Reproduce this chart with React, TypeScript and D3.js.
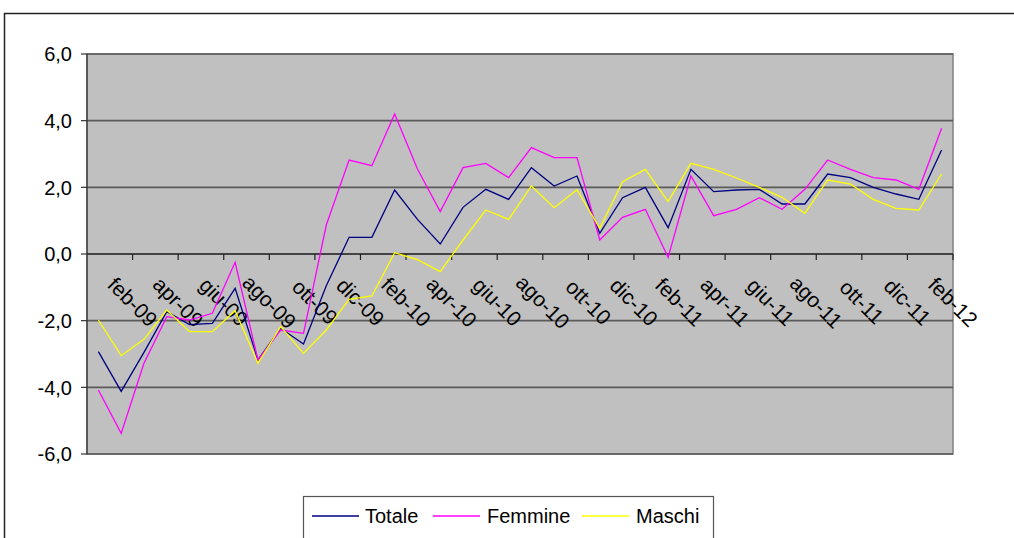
import * as d3 from 'd3';

const months = [
  'gen-09', 'feb-09', 'mar-09', 'apr-09', 'mag-09', 'giu-09', 'lug-09', 'ago-09', 'set-09', 'ott-09', 'nov-09', 'dic-09',
  'gen-10', 'feb-10', 'mar-10', 'apr-10', 'mag-10', 'giu-10', 'lug-10', 'ago-10', 'set-10', 'ott-10', 'nov-10', 'dic-10',
  'gen-11', 'feb-11', 'mar-11', 'apr-11', 'mag-11', 'giu-11', 'lug-11', 'ago-11', 'set-11', 'ott-11', 'nov-11', 'dic-11',
  'gen-12', 'feb-12'
];

const totale = [
  -2.93, -4.12, -2.95, -1.73, -2.12, -2.08, -1.03, -3.18, -2.23, -2.7, -0.95, 0.5,
  0.5, 1.92, 1.04, 0.3, 1.4, 1.94, 1.64, 2.59, 2.04, 2.34, 0.62, 1.69,
  2.0, 0.79, 2.54, 1.87, 1.92, 1.94, 1.5, 1.5, 2.4, 2.29, 2.0, 1.8,
  1.64, 3.12
];

const femmine = [
  -4.08, -5.38, -3.28, -1.88, -1.98, -1.78, -0.25, -3.18, -2.28, -2.38, 0.87, 2.82,
  2.65, 4.2, 2.55, 1.27, 2.59, 2.72, 2.29, 3.19, 2.89, 2.89, 0.42, 1.1,
  1.34, -0.1, 2.34, 1.15, 1.34, 1.69, 1.34, 1.94, 2.82, 2.54, 2.29, 2.22,
  1.94, 3.77
];

const maschi = [
  -1.98, -3.05, -2.56, -1.68, -2.33, -2.33, -1.7, -3.28, -2.18, -2.98, -2.28, -1.36,
  -1.26, 0.04, -0.17, -0.53, 0.42, 1.32, 1.04, 2.04, 1.39, 1.93, 0.77, 2.17,
  2.54, 1.57, 2.72, 2.54, 2.28, 2.0, 1.7, 1.22, 2.22, 2.1, 1.64, 1.37,
  1.32, 2.4
];

const yTicks = [-6, -4, -2, 0, 2, 4, 6];

const series = [
  { name: 'Totale', values: totale, color: '#000080' },
  { name: 'Femmine', values: femmine, color: '#ff00ff' },
  { name: 'Maschi', values: maschi, color: '#ffff00' }
];

const width = 1014;
const height = 538;
const plot = { left: 87, right: 953, top: 54, bottom: 454 };
const font = 'Arial, "Liberation Sans", sans-serif';

const itLocale = d3.formatLocale({
  decimal: ',',
  thousands: '.',
  grouping: [3],
  currency: ['', '€'],
  minus: '-'
});
const fmt = itLocale.format('.1f');

export default function App(): JSX.Element {
  const x = d3.scaleBand<string>().domain(months).range([plot.left, plot.right]).padding(0);
  const y = d3.scaleLinear().domain([-6, 6]).range([plot.bottom, plot.top]);
  const bw = x.bandwidth();

  const line = d3
    .line<number>()
    .x((_, i) => (x(months[i]) as number) + bw / 2)
    .y((d) => y(d));

  // labels every second month, centred on the tick after the labelled category
  const labelled = months.filter((_, i) => i % 2 === 1);
  const y0 = y(0);

  const legendItems = [
    { x: 312, tx: 365 },
    { x: 433, tx: 487 },
    { x: 582, tx: 636 }
  ];

  return (
    <svg
      xmlns="http://www.w3.org/2000/svg"
      width={width}
      height={height}
      style={{ position: 'absolute', left: 0, top: 0, background: '#fff' }}
    >
      <rect x={4.5} y={13.5} width={width + 20} height={height + 20} fill="#fff" stroke="#222" strokeWidth={1.5} />

      <rect
        x={plot.left}
        y={plot.top}
        width={plot.right - plot.left}
        height={plot.bottom - plot.top}
        fill="#c0c0c0"
        stroke="#808080"
        strokeWidth={1.5}
      />

      {yTicks.map((t) => (
        <g key={t}>
          <line x1={plot.left} x2={plot.right} y1={y(t)} y2={y(t)} stroke="#5a5a5a" strokeWidth={1.6} />
          <line x1={plot.left - 6} x2={plot.left} y1={y(t)} y2={y(t)} stroke="#333" strokeWidth={1.2} />
          <text x={72} y={y(t)} dy="0.36em" textAnchor="end" fontFamily={font} fontSize={20} fill="#000">
            {fmt(t)}
          </text>
        </g>
      ))}

      <line x1={plot.left} x2={plot.left} y1={plot.top} y2={plot.bottom} stroke="#333" strokeWidth={1.2} />
      <line x1={plot.left} x2={plot.right} y1={y0} y2={y0} stroke="#333" strokeWidth={1.4} />

      {labelled.map((m) => {
        const tx = (x(m) as number) + bw;
        return (
          <g key={m}>
            <line x1={tx} x2={tx} y1={y0} y2={y0 + 6} stroke="#222" strokeWidth={1.2} />
            <text
              transform={`translate(${tx},${y0 + 48}) rotate(45)`}
              textAnchor="middle"
              dy="0.35em"
              fontFamily={font}
              fontSize={21}
              fill="#000"
            >
              {m}
            </text>
          </g>
        );
      })}

      {series.map((s) => (
        <path key={s.name} d={line(s.values) as string} fill="none" stroke={s.color} strokeWidth={1.3} />
      ))}

      <rect x={303.5} y={496.5} width={410} height={45} fill="#fff" stroke="#555" strokeWidth={1.2} />
      {series.map((s, i) => (
        <g key={s.name}>
          <line
            x1={legendItems[i].x}
            x2={legendItems[i].x + 47}
            y1={516}
            y2={516}
            stroke={s.color}
            strokeWidth={1.5}
          />
          <text x={legendItems[i].tx} y={516} dy="0.36em" fontFamily={font} fontSize={20} fill="#000">
            {s.name}
          </text>
        </g>
      ))}
    </svg>
  );
}
